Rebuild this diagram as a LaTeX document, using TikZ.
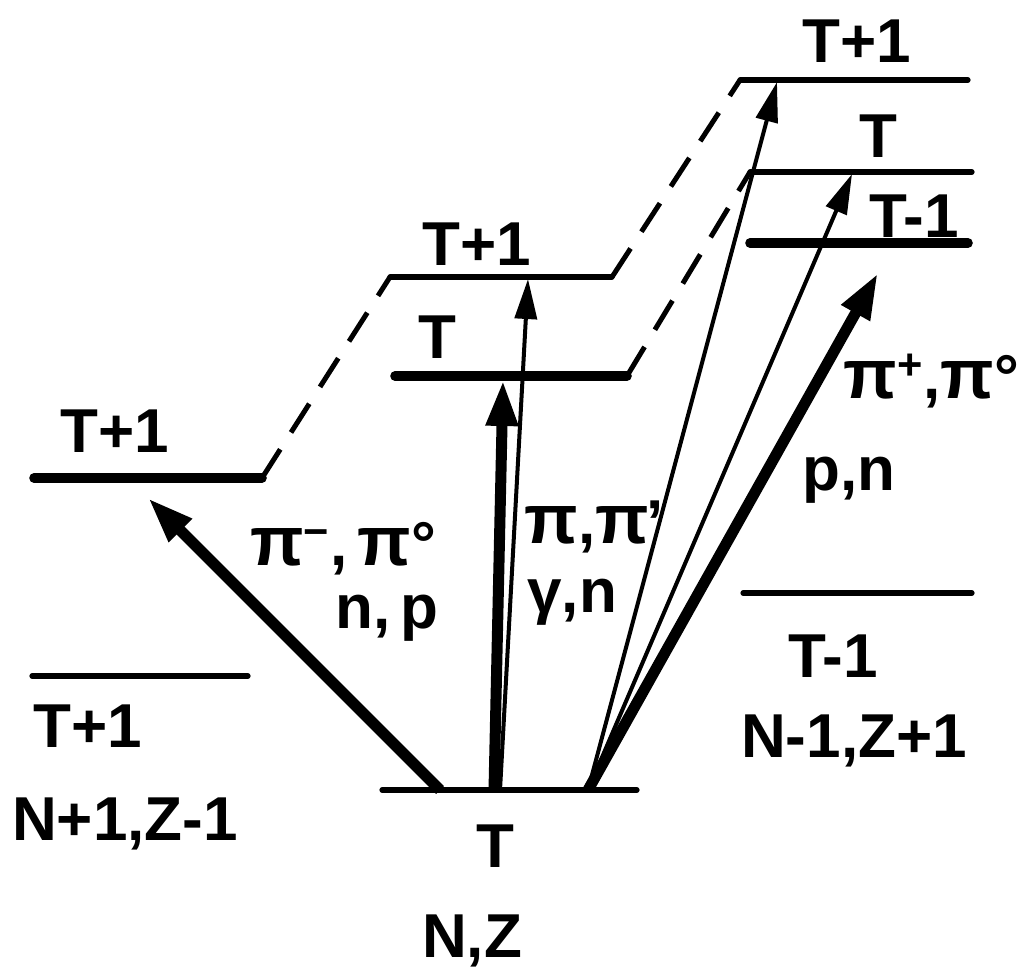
\documentclass[tikz,border=0pt]{standalone}
\usepackage{fontspec}
\setmainfont{Liberation Sans}
\usetikzlibrary{arrows.meta}
\tikzset{
  level/.style={line width=2.6pt, line cap=round},
  strong level/.style={line width=4.8pt, line cap=round},
  link/.style={line width=2.5pt, dash pattern=on 17pt off 10pt},
  wide arrow/.style={-{Triangle[length=23pt,width=15pt]}, line width=5.5pt},
  slim arrow/.style={-{Triangle[length=20pt,width=11pt]}, line width=2pt},
  lbl/.style={font=\bfseries\fontsize{31}{32}\selectfont, inner sep=0pt, anchor=base},
  reac/.style={lbl, anchor=base west}
}
\newcommand{\pion}{{\fontsize{35}{35}\selectfont π}}

\begin{document}
\begin{tikzpicture}[x=0.5pt,y=-0.5pt]
  \useasboundingbox (0,0) rectangle (1033,970);

  % level end points (picture coordinates, y down)
  \coordinate (gsL) at (382,790);   \coordinate (gsR) at (637,790);
  \coordinate (loL) at (32,676);    \coordinate (loR) at (248,676);
  \coordinate (roL) at (743,593);   \coordinate (roR) at (972,593);
  \coordinate (aL) at (34,478);     \coordinate (aR) at (262,478);
  \coordinate (bTL) at (395,376);   \coordinate (bTR) at (627,376);
  \coordinate (bUL) at (390,277);   \coordinate (bUR) at (612,277);
  \coordinate (cUL) at (740,80);    \coordinate (cUR) at (968,80);
  \coordinate (cTL) at (750,172);   \coordinate (cTR) at (972,172);
  \coordinate (cDL) at (750,243);   \coordinate (cDR) at (968,243);

  % levels
  \draw[level] (gsL) -- (gsR);
  \draw[level] (loL) -- (loR);
  \draw[level] (roL) -- (roR);
  \draw[strong level] (aL) -- (aR);
  \draw[strong level] (bTL) -- (bTR);
  \draw[level] (bUL) -- (bUR);
  \draw[level] (cUL) -- (cUR);
  \draw[level] (cTL) -- (cTR);
  \draw[strong level] (cDL) -- (cDR);

  % analog links
  \draw[link] (aR) -- (bUL);
  \draw[link] (bUR) -- (cUL);
  \draw[link] (bTR) -- (cTL);

  % transitions
  \coordinate (fromA) at (440,790);  \coordinate (toA) at (148,498);
  \coordinate (fromB) at (494,790);  \coordinate (toB) at (503,380);
  \coordinate (fromC) at (500,790);  \coordinate (toC) at (528,279);
  \coordinate (fromD) at (588,790);
  \coordinate (toD) at (777,82);     \coordinate (toE) at (852,174);
  \coordinate (toF) at (878,273);
  \draw[wide arrow] (fromA) -- (toA);
  \draw[wide arrow] (fromB) -- (toB);
  \draw[slim arrow] (fromC) -- (toC);
  \draw[slim arrow] (fromD) -- (toD);
  \draw[slim arrow] (fromD) -- (toE);
  \draw[wide arrow] (fromD) -- (toF);

  % level labels
  \node[lbl] (gsT) at (495,867) {T};
  \node[lbl] (gsNZ) at (472,957) {N,Z};
  \node[lbl] (loT) at (88,747) {T+1};
  \node[lbl] (loNZ) at (125,840) {N+1,Z-1};
  \node[lbl] (roT) at (833,677) {T-1};
  \node[lbl] (roNZ) at (854,757) {N-1,Z+1};
  \node[lbl] (aT) at (115,452) {T+1};
  \node[lbl] (bT) at (437,358) {T};
  \node[lbl] (bU) at (477,265) {T+1};
  \node[lbl] (cU) at (857,62) {T+1};
  \node[lbl] (cT) at (878,157) {T};
  \node[lbl] (cD) at (914,237) {T-1};

  % reaction labels
  \node[reac] (pimin) at (250,565) {\pion\textsuperscript{−},\,\pion°};
  \node[reac] (np) at (335,628) {n,\,p};
  \node[reac] (pipi) at (524,543) {\pion,\pion\kern-1pt'};
  \node[reac] (gn) at (527,612) {γ,n};
  \node[reac] (piplus) at (843,398) {\pion\textsuperscript{+},\pion°};
  \node[reac] (pn) at (802,490) {p,n};
\end{tikzpicture}
\end{document}
